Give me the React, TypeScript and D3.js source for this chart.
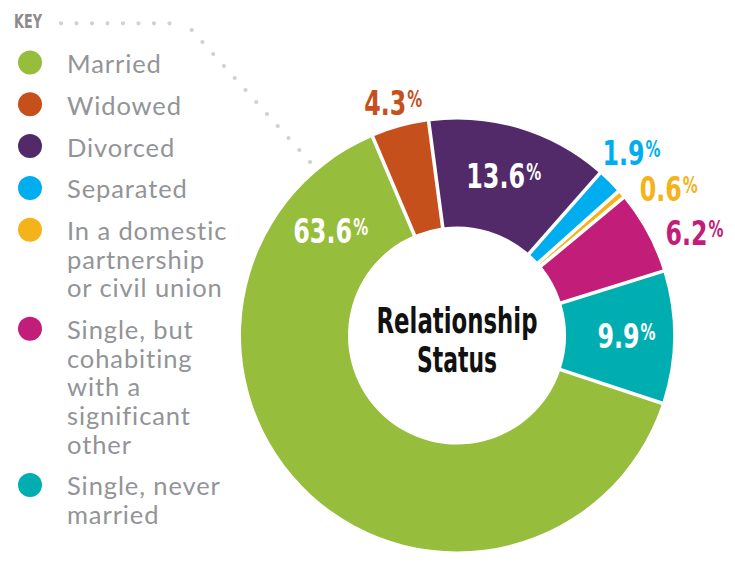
import React, { useLayoutEffect, useRef, useState } from "react";
import * as d3 from "d3";

// ---- data ----
const categories = [
  "Married",
  "Widowed",
  "Divorced",
  "Separated",
  "In a domestic partnership or civil union",
  "Single, but cohabiting with a significant other",
  "Single, never married",
];
const values = [63.6, 4.3, 13.6, 1.9, 0.6, 6.2, 9.9];
const valueLabels = ["63.6", "4.3", "13.6", "1.9", "0.6", "6.2", "9.9"];
const legendLines = [
  ["Married"],
  ["Widowed"],
  ["Divorced"],
  ["Separated"],
  ["In a domestic", "partnership", "or civil union"],
  ["Single, but", "cohabiting", "with a", "significant", "other"],
  ["Single, never", "married"],
];
const colors = ["#97BD3D", "#C6501C", "#532A69", "#00AEEF", "#F5B31A", "#C11D79", "#00AEB2"];
const title = ["Relationship", "Status"];

// ---- layout ----
const W = 735;
const H = 561;
const cx = 457;
const cy = 335.5;
const outerR = 216;
const innerR = 109;
// label placement: [angle offset from slice mid (deg), radius, inside?]
const labelPlace: [number, number, boolean][] = [
  [87, 164, true],
  [0, 242, false],
  [-0.7, 167, true],
  [-1.2, 253, false],
  [5.9, 258, false],
  [5, 259, false],
  [-0.4, 169.5, true],
];

const condensed = "'Liberation Sans Narrow', 'Arial Narrow', 'DejaVu Sans', sans-serif";
const regular = "Lato, 'Open Sans', sans-serif";

const numWidth = (s: string) => s.replace(/\D/g, "").length * 17 + 8;
const pctWidth = 15;

type FitProps = {
  x: number;
  y: number;
  width: number;
  anchor?: "start" | "middle" | "end";
  fontSize: number;
  fill: string;
  children: string;
};

// Bold condensed text, horizontally scaled to a target width.
function FitText({ x, y, width, anchor = "start", fontSize, fill, children }: FitProps) {
  const ref = useRef<SVGTextElement>(null);
  const [s, setS] = useState(0.7);
  useLayoutEffect(() => {
    if (ref.current) {
      const w = ref.current.getComputedTextLength();
      if (w > 0) setS(width / w);
    }
  }, [width, children, fontSize]);
  return (
    <g transform={`translate(${x},${y}) scale(${s},1)`}>
      <text
        ref={ref}
        x={0}
        y={0}
        textAnchor={anchor}
        fontFamily={condensed}
        fontWeight={700}
        fontSize={fontSize}
        fill={fill}
      >
        {children}
      </text>
    </g>
  );
}

export default function App() {
  const total = d3.sum(values);
  const endMarried = (-23 * Math.PI) / 180;
  const startA = endMarried - (values[0] / total) * 2 * Math.PI;
  const pie = d3
    .pie<number>()
    .sort(null)
    .value((d) => d)
    .startAngle(startA)
    .endAngle(startA + 2 * Math.PI);
  const arcs = pie(values);
  const arc = d3
    .arc<d3.PieArcDatum<number>>()
    .innerRadius(innerR)
    .outerRadius(outerR)
    .padRadius(outerR)
    .padAngle(3.6 / outerR);

  // legend layout
  const lineGap = 28.6;
  const itemGap = 41.8;
  let base = 73;
  const legendItems = legendLines.map((lines, i) => {
    const y0 = base;
    base = y0 + (lines.length - 1) * lineGap + itemGap;
    return { lines, y0, color: colors[i] };
  });

  const dotSpacingH = 15.5;
  const diag = { x1: 191.7, y1: 30, x2: 310, y2: 162 };
  const diagLen = Math.hypot(diag.x2 - diag.x1, diag.y2 - diag.y1);

  return (
    <svg
      width={W}
      height={H}
      style={{ position: "absolute", left: 0, top: 0, background: "#fff" }}
    >
      {/* KEY + dotted leader */}
      <FitText x={14} y={28} width={28} fontSize={20} fill="#8b8b8c">
        KEY
      </FitText>
      <path
        d={`M61,23.3H${61 + dotSpacingH * 8}`}
        stroke="#d0d1d3"
        strokeWidth={4.2}
        strokeLinecap="round"
        strokeDasharray={`0 ${dotSpacingH}`}
        fill="none"
      />
      <path
        d={`M${diag.x1},${diag.y1}L${diag.x2},${diag.y2}`}
        stroke="#d0d1d3"
        strokeWidth={4.2}
        strokeLinecap="round"
        strokeDasharray={`0 ${diagLen / 11}`}
        fill="none"
      />

      {/* legend */}
      {legendItems.map((it, i) => (
        <g key={categories[i]}>
          <circle cx={30} cy={it.y0 - 10.5} r={12} fill={it.color} />
          <text fontFamily={regular} fontSize={25.5} letterSpacing={0.9} fill="#929497">
            {it.lines.map((ln, j) => (
              <tspan key={j} x={67} y={it.y0 + j * lineGap}>
                {ln}
              </tspan>
            ))}
          </text>
        </g>
      ))}

      {/* donut */}
      <g transform={`translate(${cx},${cy})`}>
        {arcs.map((a, i) => (
          <path key={categories[i]} d={arc(a) || ""} fill={colors[i]} />
        ))}
        {arcs.map((a, i) => {
          const [dA, r, inside] = labelPlace[i];
          const mid = (a.startAngle + a.endAngle) / 2 + (dA * Math.PI) / 180;
          const x = Math.sin(mid) * r;
          const y = -Math.cos(mid) * r;
          const nw = numWidth(valueLabels[i]);
          const tw = nw + 1 + pctWidth;
          const x0 = x - tw / 2;
          const fill = inside ? "#ffffff" : colors[i];
          return (
            <g key={"l" + i}>
              <FitText x={x0} y={y + 12.5} width={nw} fontSize={34} fill={fill}>
                {valueLabels[i]}
              </FitText>
              <FitText x={x0 + nw + 1} y={y + 4.5} width={pctWidth} fontSize={23} fill={fill}>
                %
              </FitText>
            </g>
          );
        })}
        <FitText x={0} y={-2.5} width={161} anchor="middle" fontSize={36} fill="#111">
          {title[0]}
        </FitText>
        <FitText x={0} y={36.5} width={80} anchor="middle" fontSize={36} fill="#111">
          {title[1]}
        </FitText>
      </g>
    </svg>
  );
}
